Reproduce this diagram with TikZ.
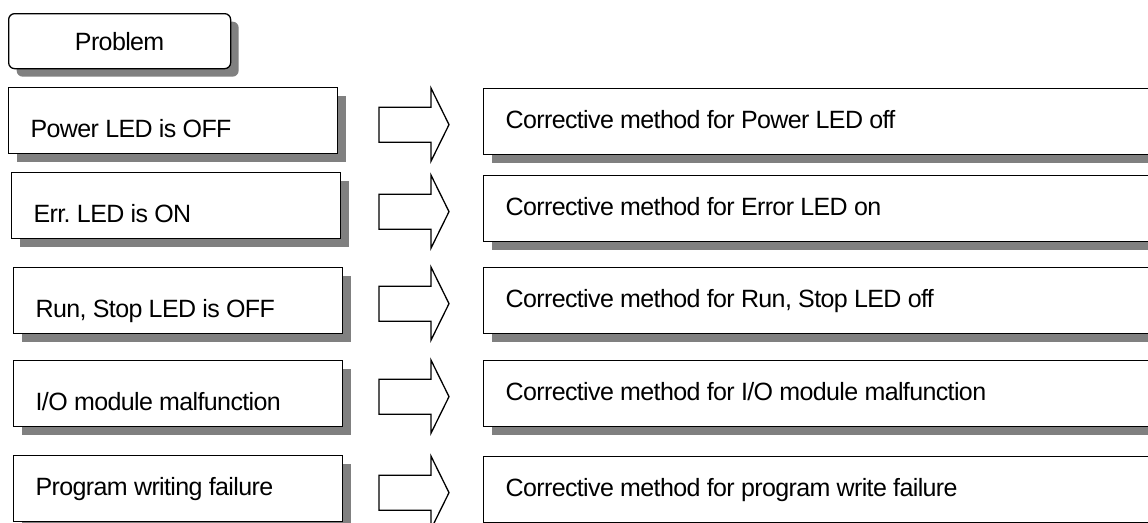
\documentclass[tikz,border=0pt]{standalone}
\usepackage{fontspec}
\setmainfont[LetterSpace=-2.5]{Liberation Sans}
\usetikzlibrary{shadows,calc}
\newcommand\boxfont{\fontsize{25}{30}\selectfont}

\begin{document}
\begin{tikzpicture}[x=1pt, y=-1pt,
  shade/.style={general shadow={fill=black!50, shadow xshift=8pt, shadow yshift=-8pt}},
  txt/.style={font=\boxfont, execute at begin node={\frenchspacing\spaceskip=6.3pt plus 1pt minus 1pt\relax}},
  prob/.style={draw, line width=1.3pt, fill=white, shade, txt, anchor=north west, minimum width=329pt, minimum height=66pt, text width=285pt, inner xsep=22pt, align=left, text height=38pt, text depth=5pt},
  fix/.style={prob, minimum width=720pt, text width=676pt, text height=18pt},
  blk/.style={draw, line width=1.3pt, fill=white, line join=miter}
]
\useasboundingbox (0,0) rectangle (1148,522);
\clip (0,0) rectangle (1148,522);

\node[draw, line width=1.3pt, fill=white, shade, txt, rounded corners=6pt, anchor=north west, minimum width=222pt, minimum height=55pt] (title) at (8,13) {Problem};

\node[prob] (p1) at (8,87) {Power LED is OFF};
\node[prob] (p2) at (11,172) {Err. LED is ON};
\node[prob] (p3) at (13,267) {Run, Stop LED is OFF};
\node[prob] (p4) at (13,360) {I/O module malfunction};
\node[prob, text height=18pt] (p5) at (13,455) {Program writing failure};

\node[fix] (c1) at (483,88) {Corrective method for Power LED off};
\node[fix] (c2) at (483,175) {Corrective method for Error LED on};
\node[fix] (c3) at (483,267) {Corrective method for Run, Stop LED off};
\node[fix] (c4) at (483,360) {Corrective method for I/O module malfunction};
\node[fix] (c5) at (483,456) {Corrective method for program write failure};

% block arrows between the columns
\foreach \i in {1,...,5} {
  \coordinate (t\i) at ($(c\i.west)+(-34,3)$);
  \draw[blk] ($(t\i)+(-70,-17.5)$) -- ($(t\i)+(-18,-17.5)$) -- ($(t\i)+(-18,-36.5)$) -- (t\i)
    -- ($(t\i)+(-18,36.5)$) -- ($(t\i)+(-18,17.5)$) -- ($(t\i)+(-70,17.5)$) -- cycle;
}
\end{tikzpicture}
\end{document}
